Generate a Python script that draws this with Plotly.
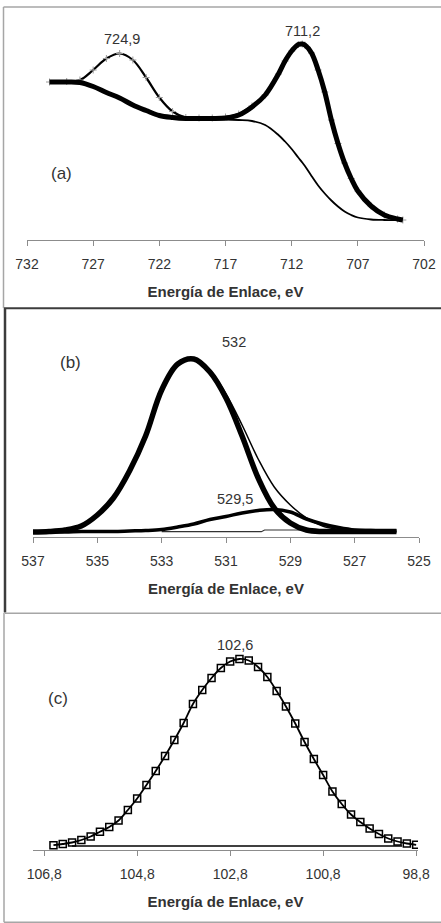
import plotly.graph_objects as go

# ---------------- Panel (a): Fe 2p ----------------
energy_a = [730.3, 729, 728, 727, 726, 725, 724, 723, 722, 721, 720, 719, 718, 717, 716,
            715, 714, 713, 712.5, 712, 711.5, 711.2, 711, 710.5, 710, 709.5, 709, 708.5,
            708, 707.5, 707, 706, 705, 704, 703.6]
spectrum_a = [158, 158.5, 160, 170, 181.5, 186.5, 180, 162.5, 142.5, 128.5, 122.5, 122, 122,
              123, 126, 134, 145, 166, 179, 189, 195.5, 196, 195, 187, 170, 148, 120, 96.5,
              77, 61.5, 49, 34, 25, 21, 20]
background_a = [158, 158, 157.5, 153.5, 147.5, 142, 135, 129.5, 124.5, 122.5, 121.5, 121,
                120.5, 120.5, 120, 119, 115, 105, 98.5, 91, 82.5, 77.5, 74, 64, 54.5, 46.5,
                39.5, 33.5, 28.5, 25, 22.5, 20.5, 20, 20, 20]
fit_main_a = [158, 158, 157.5, 153.5, 147.5, 142, 135, 129.5, 124.5, 122.5, 121.5, 121.5,
              121.5, 122, 125, 133, 145, 166, 179, 189, 195.5, 196, 195, 187, 170, 148, 120,
              96.5, 77, 61.5, 49, 34, 25, 21, 20]

# ---------------- Panel (b): O 1s ----------------
energy_b = [537, 536.5, 536, 535.5, 535, 534.5, 534, 533.5, 533, 532.5, 532, 531.5, 531,
            530.5, 530, 529.5, 529, 528.5, 528, 527.5, 527, 526.5, 526, 525.7]
peak532_b = [0, 0.5, 2, 6, 17, 34, 61, 96, 142, 168, 173, 160, 134, 96, 54, 24, 9, 2, 0.5,
             0.5, 0.5, 0.5, 0.5, 0.5]
peak5295_b = [0, 0, 0, 0.5, 0.5, 0.5, 1, 1.5, 2.5, 5, 8, 12.5, 15.5, 19, 21.5, 22.5, 20, 13,
              8, 4.5, 2, 1.5, 1, 1]
envelope_b = [0, 0.5, 2, 6, 17, 34, 61, 96, 142, 168, 173.5, 162, 138, 107, 73, 45, 27, 14,
              6, 2.5, 1, 0.5, 0.5, 0.5]
bg_energy_b = [533, 529.9, 529.8, 527.9, 527.8]
bg_b = [0.3, 0.3, 2, 2, 0.3]

# ---------------- Panel (c): Si 2p ----------------
energy_c = [106.6, 106.4, 106.2, 106.0, 105.8, 105.6, 105.4, 105.2, 105.0, 104.8, 104.6,
            104.4, 104.2, 104.0, 103.8, 103.6, 103.4, 103.2, 103.0, 102.8, 102.6, 102.4,
            102.2, 102.0, 101.8, 101.6, 101.4, 101.2, 101.0, 100.8, 100.6, 100.4, 100.2,
            100.0, 99.8, 99.6, 99.4, 99.2, 99.0, 98.8]
peak_c = [0.8, 2.0, 3.5, 6.0, 9.5, 14.3, 19, 25.5, 36, 47.5, 61, 75, 90, 106, 123, 142, 156,
          168, 178, 184.5, 187, 185.5, 179, 169, 155, 139.5, 122.5, 104, 87, 71, 54.5, 42,
          31.5, 24, 17.5, 12, 7.5, 4.5, 2.5, 1.2]
bg_energy_c = [106.2, 99.1]
bg_c = [0, 0]

# tick settings
ticks_a = dict(tick0=702, dtick=5)
ticks_b = dict(tick0=525, dtick=2)
ticks_c = dict(tick0=98.8, dtick=2)
axis_title = "Energía de Enlace, eV"

W, H = 441, 923
FONT = "Liberation Sans, Arial, sans-serif"


def px(x):
    return x / W


def py(y):
    return 1 - y / H


fig = go.Figure()

# panel a traces
fig.add_trace(go.Scatter(x=energy_a, y=background_a, mode="lines", line=dict(color="black", width=1.8, shape="spline"),
                         xaxis="x", yaxis="y"))
fig.add_trace(go.Scatter(x=energy_a, y=spectrum_a, mode="lines+markers",
                         line=dict(color="black", width=2.2, shape="spline"),
                         marker=dict(symbol="cross-thin", size=5, line=dict(color="#9a9a9a", width=1)),
                         xaxis="x", yaxis="y"))
fig.add_trace(go.Scatter(x=energy_a, y=fit_main_a, mode="lines", line=dict(color="black", width=5, shape="spline"),
                         xaxis="x", yaxis="y"))

# panel b traces
fig.add_trace(go.Scatter(x=bg_energy_b, y=bg_b, mode="lines", line=dict(color="#333333", width=1.2),
                         xaxis="x2", yaxis="y2"))
fig.add_trace(go.Scatter(x=energy_b, y=envelope_b, mode="lines", line=dict(color="black", width=1.5, shape="spline"),
                         xaxis="x2", yaxis="y2"))
fig.add_trace(go.Scatter(x=energy_b, y=peak5295_b, mode="lines", line=dict(color="black", width=3.5, shape="spline"),
                         xaxis="x2", yaxis="y2"))
fig.add_trace(go.Scatter(x=energy_b, y=peak532_b, mode="lines", line=dict(color="black", width=5.5, shape="spline"),
                         xaxis="x2", yaxis="y2"))

# panel c traces
fig.add_trace(go.Scatter(x=bg_energy_c, y=bg_c, mode="lines", line=dict(color="black", width=1.5),
                         xaxis="x3", yaxis="y3"))
fig.add_trace(go.Scatter(x=energy_c, y=peak_c, mode="lines+markers",
                         line=dict(color="black", width=1.8, shape="spline"),
                         marker=dict(symbol="square-open", size=7, color="black", line=dict(width=1.5)),
                         xaxis="x3", yaxis="y3"))

xcommon = dict(showline=True, linecolor="#8c8c8c", linewidth=1, ticks="outside", ticklen=5,
               tickcolor="#8c8c8c", showgrid=False, zeroline=False, tickmode="linear",
               automargin=False,
               tickfont=dict(family=FONT, size=14, color="#333333"), ticklabelstandoff=6,
               title=dict(text=axis_title, font=dict(family=FONT, size=15, color="#333333",
                                                     weight="bold"), standoff=15))
ycommon = dict(visible=False, showgrid=False, zeroline=False, fixedrange=True, automargin=False)

fig.update_layout(
    width=W, height=H, margin=dict(l=0, r=0, t=0, b=0, autoexpand=False),
    paper_bgcolor="white", plot_bgcolor="white", showlegend=False,
    separators=",.",
    xaxis=dict(xcommon, domain=[px(27), px(424)], range=[732, 702], anchor="y", **ticks_a),
    yaxis=dict(ycommon, domain=[py(240), py(20)], range=[0, 220], anchor="x"),
    xaxis2=dict(xcommon, domain=[px(33), px(419)], range=[537, 525], anchor="y2", **ticks_b),
    yaxis2=dict(ycommon, domain=[py(537), py(330)], range=[-5, 202], anchor="x2"),
    xaxis3=dict(xcommon, domain=[px(33), px(418)], range=[107.04, 98.76], anchor="y3",
                tickformat=".1f", **ticks_c),
    yaxis3=dict(ycommon, domain=[py(850), py(630)], range=[-4, 216], anchor="x3"),
)

# labels
ann_font = dict(family=FONT, size=14.5, color="#333333")
lab_font = dict(family=FONT, size=17, color="#333333")
anns = [
    dict(text="724,9", x=px(122), y=py(39), font=ann_font),
    dict(text="711,2", x=px(302), y=py(31), font=ann_font),
    dict(text="(a)", x=px(61), y=py(173), font=lab_font),
    dict(text="532", x=px(234), y=py(342), font=ann_font),
    dict(text="(b)", x=px(70), y=py(362), font=lab_font),
    dict(text="529,5", x=px(235), y=py(499), font=ann_font),
    dict(text="102,6", x=px(235), y=py(645), font=ann_font),
    dict(text="(c)", x=px(58), y=py(698), font=lab_font),
]
for a in anns:
    fig.add_annotation(xref="paper", yref="paper", showarrow=False, xanchor="center",
                       yanchor="middle", **a)

# panel frames
light = "#a6a6a6"
dark = "#3c3c3c"
lines = [
    (3.5, 7, 3.5, 308, light, 1.5),
    (3.5, 7, 441, 7, light, 1.5),
    (4, 308.3, 441, 308.3, dark, 2),
    (5, 308, 5, 612.5, dark, 2.5),
    (5, 613.3, 441, 613.3, light, 1.5),
    (4, 613, 4, 922.3, light, 1.5),
    (4, 922.3, 441, 922.3, light, 1.5),
]
for x0, y0, x1, y1, c, w in lines:
    fig.add_shape(type="line", xref="paper", yref="paper", x0=px(x0), y0=py(y0), x1=px(x1),
                  y1=py(y1), line=dict(color=c, width=w))

fig.write_html("out.html")
